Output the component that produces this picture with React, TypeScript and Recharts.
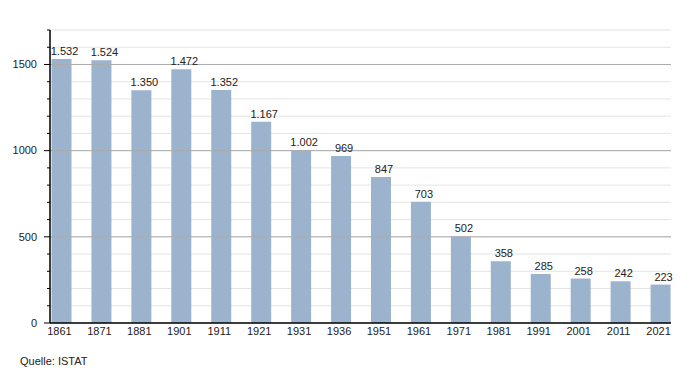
import React from 'react';
import { BarChart, Bar, XAxis, YAxis, CartesianGrid, ReferenceLine, LabelList } from 'recharts';

const years = ['1861', '1871', '1881', '1901', '1911', '1921', '1931', '1936', '1951', '1961', '1971', '1981', '1991', '2001', '2011', '2021'];
const population = [1532, 1524, 1350, 1472, 1352, 1167, 1002, 969, 847, 703, 502, 358, 285, 258, 242, 223];
const yTicks = [0, 100, 200, 300, 400, 500, 600, 700, 800, 900, 1000, 1100, 1200, 1300, 1400, 1500, 1600, 1700];
const majorTicks = [500, 1000, 1500];

const data = years.map((year, i) => ({ year, value: population[i] }));

const FONT = '"Liberation Sans", Arial, sans-serif';

const fmt = (v: number) => v.toLocaleString('de-DE');

const YTick = ({ x, y, payload }: any) => {
  const v = payload.value;
  const major = v % 500 === 0;
  return (
    <g>
      <line x1={x + 13 - (major ? 6 : 3)} x2={x + 13} y1={y} y2={y} stroke="#000" strokeWidth={1} />
      {major && (
        <text x={x} y={y} dy="0.35em" textAnchor="end" fontSize={11} fill="#222" fontFamily={FONT}>
          {v}
        </text>
      )}
    </g>
  );
};

const XTick = ({ x, y, payload }: any) => (
  <text x={x - 2} y={y} dy="0.71em" textAnchor="middle" fontSize={11} fill="#222" fontFamily={FONT}>
    {payload.value}
  </text>
);

export default function App() {
  return (
    <div style={{ position: 'absolute', top: 0, left: 0, width: 700, height: 373, background: '#fff', fontFamily: FONT }}>
      <BarChart
        width={700}
        height={373}
        data={data}
        margin={{ top: 30, right: 29, left: 0, bottom: 30 }}
        barSize={20}
      >
        <CartesianGrid vertical={false} stroke="#e4e4e4" strokeWidth={1} />
        {majorTicks.map((t) => (
          <ReferenceLine key={t} y={t} stroke="#ababab" strokeWidth={1} />
        ))}
        <XAxis
          dataKey="year"
          padding={{ left: -8.5, right: -9.5 }}
          tickLine={false}
          tickSize={0}
          tickMargin={4}
          axisLine={{ stroke: '#000', strokeWidth: 1.5 }}
          tick={<XTick />}
          interval={0}
          height={20}
        />
        <YAxis
          width={50}
          domain={[0, 1700]}
          ticks={yTicks}
          interval={0}
          tickLine={false}
          tickSize={0}
          tickMargin={13}
          axisLine={{ stroke: '#000', strokeWidth: 1.5 }}
          tick={<YTick />}
        />
        <Bar dataKey="value" fill="#9cb3ce" isAnimationActive={false}>
          <LabelList
            dataKey="value"
            position="top"
            offset={4}
            dx={3}
            formatter={(v: any) => fmt(Number(v))}
            style={{ fontSize: 11, fill: '#222', fontFamily: FONT }}
          />
        </Bar>
      </BarChart>
      <div style={{ position: 'absolute', left: 20, top: 355, fontSize: 11, color: '#222', fontFamily: FONT }}>
        Quelle: ISTAT
      </div>
    </div>
  );
}
